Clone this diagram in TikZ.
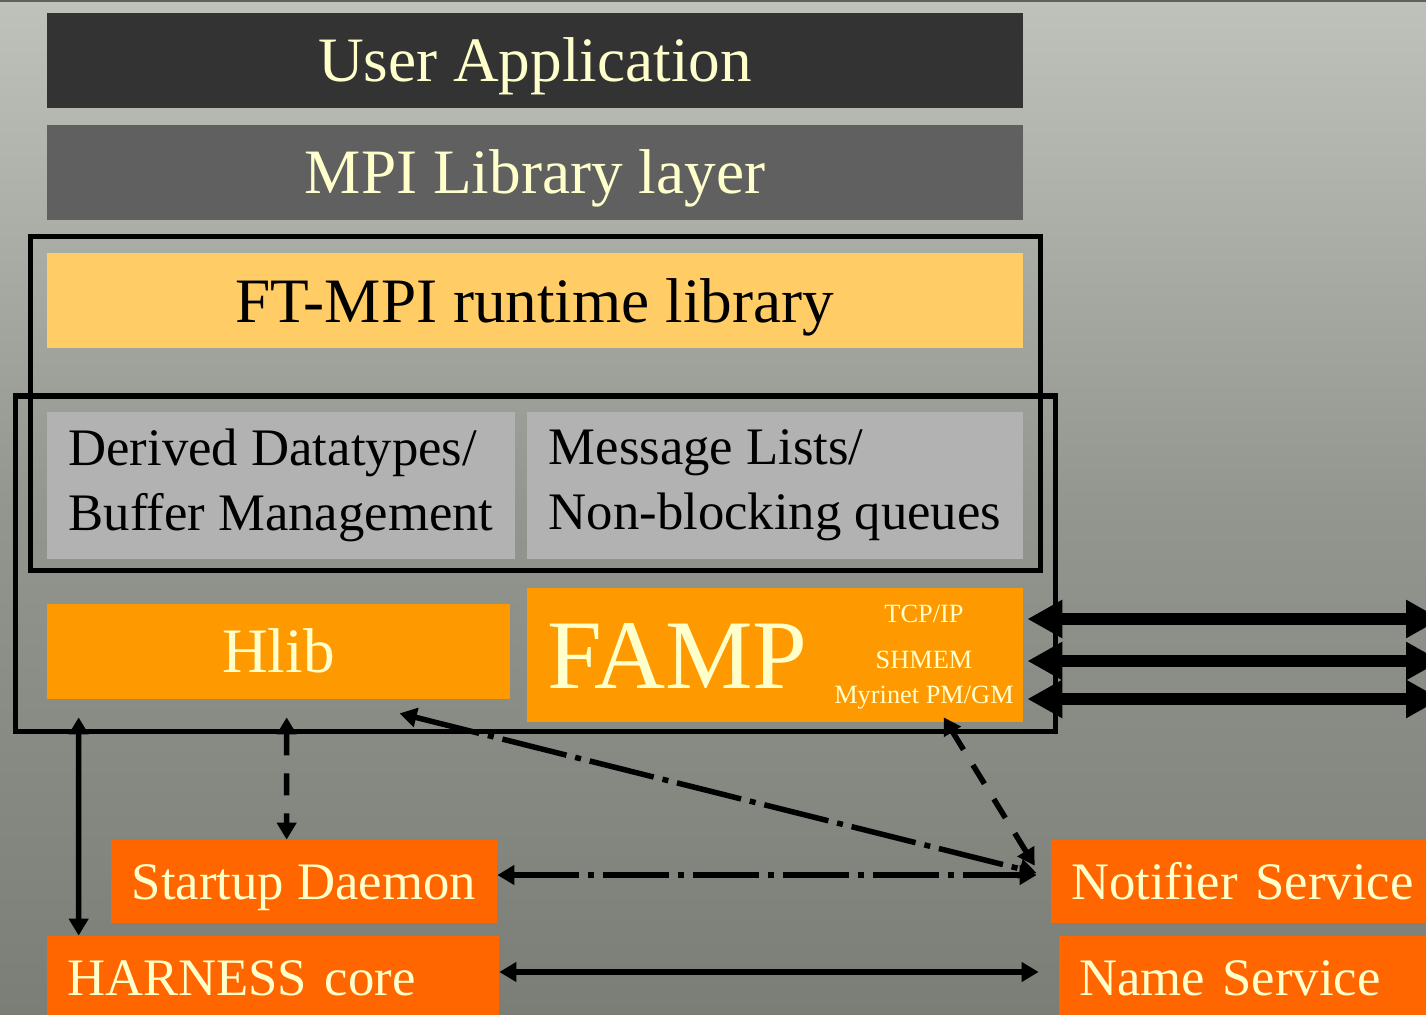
\documentclass[tikz,border=0pt]{standalone}
\usepackage{fontspec}
\setmainfont{Liberation Serif}
\usetikzlibrary{arrows.meta}

\definecolor{cream}{HTML}{FFFFCC}
\definecolor{appgray}{HTML}{333333}
\definecolor{mpigray}{HTML}{606060}
\definecolor{ftyellow}{HTML}{FFCC66}
\definecolor{modgray}{HTML}{B2B2B2}
\definecolor{amber}{HTML}{FF9900}
\definecolor{svcorange}{HTML}{FF6600}
\definecolor{bgtop}{RGB}{190,194,187}
\definecolor{bgmid}{RGB}{146,150,143}
\definecolor{bgbot}{RGB}{122,126,119}
\definecolor{rulegray}{HTML}{5C615C}

\begin{document}
\begin{tikzpicture}[
  font=\fontsize{36}{43}\selectfont,
  >={Triangle[length=0.34cm, width=0.38cm]},
  box/.style={inner sep=0pt, text=cream, text height=0.84cm, text depth=0pt},
  layer/.style={box, minimum width=19.52cm, minimum height=1.9cm},
  module/.style={fill=modgray, minimum width=#1, minimum height=2.94cm,
                 inner sep=0pt, align=left, font=\fontsize{30}{37}\selectfont},
  service/.style={box, fill=svcorange, minimum height=1.66cm,
                  text height=0.7cm, font=\fontsize{30}{36}\selectfont},
  service-l/.style={service, align=left, inner xsep=0.4cm},
  proto/.style={inner sep=0pt, text=cream, font=\fontsize{15}{18}\selectfont},
  frame/.style={line width=0.1cm},
  link/.style={<->, line width=0.11cm},
  dashlink/.style={dash pattern=on 0.44cm off 0.36cm},
  dashdot/.style={dash pattern=on 1.32cm off 0.18cm on 0.12cm off 0.18cm},
  bus/.style={<->, line width=0.24cm, >={Triangle[length=0.7cm, width=0.72cm]}}
]
  \useasboundingbox (0,0) rectangle (28.52,-20.30);
  \clip (0,0) rectangle (28.52,-20.30);

  % slide background
  \shade[top color=bgtop, bottom color=bgbot, middle color=bgmid]
    (0,0) rectangle (28.52,-20.30);
  \fill[rulegray] (0,0) rectangle (28.52,-0.05);

  % ===========================================================
  % MPI stack
  % ===========================================================
  \node[layer, fill=appgray]  (ua)   at (10.70,-1.22) {User Application};
  \node[layer, fill=mpigray]  (mpi)  at (10.70,-3.46) {MPI Library layer};
  \node[layer, fill=ftyellow, text=black] (ftrt) at (10.70,-6.02)
    {FT-MPI runtime library};

  \node[module=9.36cm] (derived) at ( 5.62,-9.71)
    {Derived Datatypes/\\Buffer Management};
  \node[module=9.92cm] (msglist) at (15.50,-9.71)
    {Message Lists/\\Non-blocking queues};

  \node[box, fill=amber, minimum width=9.26cm, minimum height=1.9cm]
    (hlib) at (5.57,-13.03) {Hlib};
  \node[box, fill=amber, minimum width=9.92cm, minimum height=2.68cm,
        text width=9.12cm, align=left, inner xsep=0.4cm, text height=1.34cm,
        font=\fontsize{56}{62}\selectfont]
    (famp) at (15.50,-13.10) {FAMP};
  \node[proto, anchor=base] (tcpip)   at (18.48,-12.44) {TCP/IP};
  \node[proto, anchor=base] (shmem)   at (18.48,-13.36) {SHMEM};
  \node[proto, anchor=base] (myrinet) at (18.48,-14.06) {Myrinet PM/GM};

  % the two groupings round the runtime
  \draw[frame] (0.61,-4.73) rectangle (20.80,-11.41);
  \draw[frame] (0.31,-7.92) rectangle (21.10,-14.63);

  % ===========================================================
  % HARNESS side
  % ===========================================================
  \node[service, minimum width=7.72cm] (startup) at (6.08,-17.63)
    {Startup Daemon};
  \node[service-l, minimum height=1.68cm, text width=8.24cm]
    (harness) at (5.46,-19.56) {HARNESS core};
  \node[service-l, text width=6.98cm] (notifier) at (24.91,-17.63)
    {Notifier Service};
  \node[service-l, minimum height=1.68cm, text width=6.82cm]
    (namesvc) at (24.99,-19.56) {Name Service};

  % network links out of FAMP
  \coordinate (net1) at (28.82,-12.38);
  \coordinate (net2) at (28.82,-13.22);
  \coordinate (net3) at (28.82,-13.98);
  \draw[bus, shorten <=0.08cm] (famp.east |- net1) -- (net1);
  \draw[bus, shorten <=0.08cm] (famp.east |- net2) -- (net2);
  \draw[bus, shorten <=0.08cm] (famp.east |- net3) -- (net3);

  % ===========================================================
  % control paths
  % ===========================================================
  \draw[link, shorten <=0.36cm]
    ([xshift=0.64cm]hlib.south west) -- ([xshift=0.64cm]harness.north west);
  \draw[link, dashlink, shorten <=0.36cm]
    ([xshift=4.8cm]hlib.south west) -- ([xshift=3.52cm]startup.north west);

  \draw[link, dashdot, shorten >=0.28cm]
    ([yshift=0.13cm]startup.east) -- ([yshift=0.13cm]notifier.west);
  \draw[link, dashdot]
    ([xshift=7.06cm, yshift=-0.28cm]hlib.south west)
    -- ([xshift=-0.28cm, yshift=0.17cm]notifier.west);
  \draw[link, dashlink]
    ([xshift=8.34cm, yshift=0.1cm]famp.south west)
    -- ([xshift=-0.32cm, yshift=-0.52cm]notifier.north west);

  \draw[link, shorten >=0.4cm]
    ([yshift=0.12cm]harness.east) -- ([yshift=0.12cm]namesvc.west);

\end{tikzpicture}
\end{document}
